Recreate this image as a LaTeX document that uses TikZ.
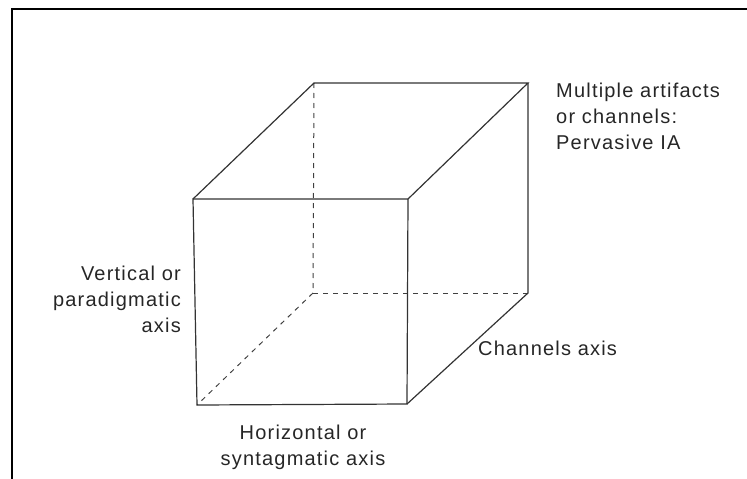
\documentclass[tikz,border=0pt]{standalone}
\usepackage{fontspec}
\setmainfont{Liberation Sans}
\newfontfamily\handfont[LetterSpace=6]{Liberation Sans}
\begin{document}
\begin{tikzpicture}[x=1pt,y=-1pt,
  edge/.style={draw=black!80,line width=1.2pt},
  hidden/.style={draw=black!75,line width=1pt,dash pattern=on 5pt off 5pt},
  frame/.style={draw=black,line width=2.5pt},
  lbl/.style={inner sep=0pt,text=black!85,font=\handfont\fontsize{20}{26}\selectfont}]
\useasboundingbox (0,0) rectangle (747,479);
% frame
\coordinate (fb) at (12,485);
\coordinate (fc) at (12,9);
\coordinate (fr) at (752,9);
\draw[frame] (fb) -- (fc) -- (fr);
% cube vertices
\coordinate (A) at (193,199); % front top-left
\coordinate (B) at (408,199); % front top-right
\coordinate (C) at (407,404); % front bottom-right
\coordinate (D) at (197,405); % front bottom-left
\coordinate (E) at (314,83);  % back top-left
\coordinate (F) at (528,83);  % back top-right
\coordinate (G) at (528,293); % back bottom-right
\coordinate (H) at (313,293); % back bottom-left
% hidden edges
\draw[hidden] (E) -- (H);
\draw[hidden] (H) -- (G);
\draw[hidden] (H) -- (D);
% visible edges
\draw[edge] (A) -- (B) -- (C) -- (D) -- cycle;
\draw[edge] (A) -- (E) -- (F) -- (B);
\draw[edge] (F) -- (G) -- (C);
% labels
\node[lbl,anchor=north west,align=left] (multi) at (556,83)
  {Multiple artifacts\\or channels:\\Pervasive IA};
\node[lbl,anchor=east,align=right] (vert) at (181,299)
  {Vertical or\\paradigmatic\\axis};
\node[lbl,anchor=center,align=center] (horiz) at (303,447)
  {Horizontal or\\syntagmatic axis};
\node[lbl,anchor=west] (chan) at (478,348) {Channels axis};
\end{tikzpicture}
\end{document}
